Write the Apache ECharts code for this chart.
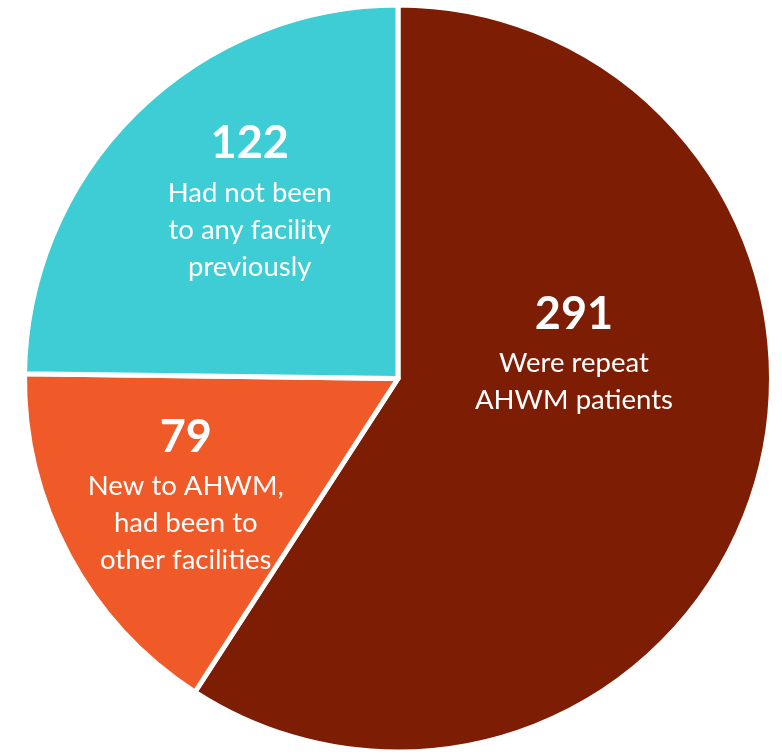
<!DOCTYPE html>
<html>
<head>
<meta charset="utf-8">
<script src="https://cdn.jsdelivr.net/npm/echarts@6/dist/echarts.min.js"></script>
<style>
html,body{margin:0;padding:0;background:#fff;}
#chart{width:782px;height:754px;}
</style>
</head>
<body>
<div id="chart"></div>
<script>
const categories = ['Were repeat\nAHWM patients', 'New to AHWM,\nhad been to\nother facilities', 'Had not been\nto any facility\npreviously'];
const values = [291, 79, 122];
const colors = ['#7D1E04', '#F05A28', '#3ECDD4'];

const labelShift = [[-6, -81], [-45, 25], [-15, -44]];

const chart = echarts.init(document.getElementById('chart'), null, {renderer: 'canvas'});
chart.setOption({
  backgroundColor: '#ffffff',
  animation: false,
  series: [{
    type: 'pie',
    center: [398, 378.5],
    radius: [0, 373.5],
    startAngle: 90,
    clockwise: true,
    avoidLabelOverlap: false,
    itemStyle: {borderColor: '#ffffff', borderWidth: 5},
    label: {
      show: true,
      position: 'inside',
      formatter: function (p) { return '{n|' + p.value + '}\n{t|' + p.name.split('\n').join('}\n{t|') + '}'; },
      rich: {
        n: {fontFamily: 'Lato', fontWeight: 'bold', fontSize: 45, lineHeight: 61, color: '#ffffff', align: 'center'},
        t: {fontFamily: 'Lato', fontSize: 27.5, lineHeight: 37, color: '#ffffff', align: 'center'}
      }
    },
    labelLine: {show: false},
    labelLayout: function (p) {
      const s = labelShift[p.dataIndex];
      return {dx: s[0], dy: s[1]};
    },
    emphasis: {disabled: true},
    data: categories.map((c, i) => ({name: c, value: values[i], itemStyle: {color: colors[i]}}))
  }]
});
</script>
</body>
</html>
